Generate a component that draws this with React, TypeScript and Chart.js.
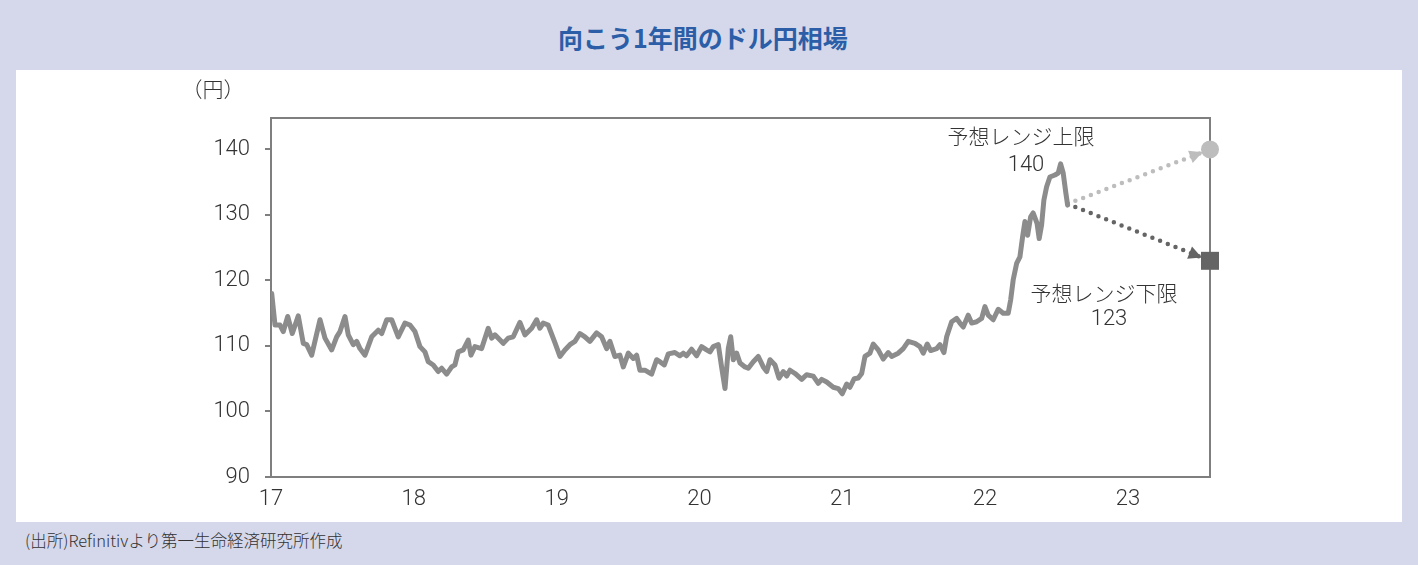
import React, { useEffect, useRef } from "react";
import { Chart, registerables } from "chart.js";

Chart.register(...registerables);

// ---- data ----
const title = "向こう1年間のドル円相場";
const unitLabel = "（円）";
const sourceNote = "(出所)Refinitivより第一生命経済研究所作成";

const years = [
  17.005, 17.028, 17.063, 17.086, 17.117, 17.149, 17.191, 17.226, 17.25, 17.285,
  17.343, 17.378, 17.425, 17.46, 17.483, 17.518, 17.541, 17.576, 17.6, 17.623,
  17.658, 17.705, 17.751, 17.775, 17.81, 17.845, 17.891, 17.938, 17.973, 18.008,
  18.043, 18.078, 18.101, 18.136, 18.171, 18.195, 18.23, 18.265, 18.288, 18.311,
  18.346, 18.381, 18.4, 18.428, 18.475, 18.521, 18.545, 18.568, 18.626, 18.661,
  18.696, 18.743, 18.778, 18.825, 18.86, 18.883, 18.906, 18.941, 18.988, 19.023,
  19.058, 19.093, 19.128, 19.163, 19.198, 19.233, 19.28, 19.315, 19.35, 19.373,
  19.408, 19.443, 19.467, 19.502, 19.537, 19.56, 19.583, 19.618, 19.665, 19.7,
  19.723, 19.754, 19.782, 19.828, 19.863, 19.887, 19.91, 19.945, 19.98, 20.015,
  20.05, 20.074, 20.097, 20.132, 20.155, 20.179, 20.202, 20.219, 20.237, 20.261,
  20.284, 20.319, 20.342, 20.377, 20.412, 20.447, 20.471, 20.494, 20.529, 20.557,
  20.587, 20.611, 20.634, 20.669, 20.716, 20.75, 20.797, 20.832, 20.856, 20.891,
  20.937, 20.972, 21.0, 21.031, 21.054, 21.084, 21.112, 21.136, 21.159, 21.194,
  21.217, 21.252, 21.287, 21.322, 21.346, 21.392, 21.427, 21.462, 21.509, 21.544,
  21.567, 21.595, 21.619, 21.661, 21.684, 21.712, 21.731, 21.766, 21.801, 21.824,
  21.847, 21.882, 21.906, 21.941, 21.976, 21.999, 22.022, 22.057, 22.092, 22.127,
  22.162, 22.179, 22.197, 22.221, 22.244, 22.263, 22.279, 22.298, 22.319, 22.337,
  22.364, 22.379, 22.396, 22.412, 22.431, 22.454, 22.489, 22.512, 22.529, 22.547,
  22.566, 22.578,
];

const usdJpy = [
  118.0, 113.2, 113.2, 112.2, 114.5, 111.9, 114.6, 110.4, 110.2, 108.6,
  114.0, 111.2, 109.4, 111.4, 112.2, 114.5, 111.7, 110.2, 110.7, 109.6,
  108.6, 111.4, 112.4, 111.9, 114.0, 114.0, 111.4, 113.5, 113.2, 112.2,
  109.9, 109.1, 107.6, 107.1, 106.1, 106.6, 105.7, 106.8, 107.1, 109.1,
  109.4, 110.9, 108.6, 109.9, 109.6, 112.7, 111.2, 111.7, 110.4, 111.2,
  111.4, 113.6, 111.7, 112.7, 114.0, 112.7, 113.5, 113.2, 110.5, 108.4,
  109.4, 110.2, 110.7, 111.9, 111.4, 110.7, 112.0, 111.4, 109.6, 110.7,
  108.4, 108.6, 106.8, 108.9, 108.1, 108.6, 106.3, 106.3, 105.7, 107.9,
  107.6, 107.1, 108.8, 109.0, 108.5, 108.9, 108.5, 109.5, 108.5, 109.9,
  109.4, 109.1, 109.9, 110.2, 106.8, 103.5, 109.6, 111.4, 107.9, 108.9,
  107.4, 106.8, 106.6, 107.6, 108.4, 106.8, 106.1, 107.9, 107.1, 105.1,
  106.1, 105.4, 106.3, 105.8, 104.9, 105.6, 105.4, 104.3, 104.9, 104.5,
  103.7, 103.5, 102.7, 104.2, 103.7, 105.0, 105.1, 105.8, 108.4, 108.9,
  110.3, 109.4, 108.0, 109.0, 108.4, 108.9, 109.6, 110.7, 110.4, 109.9,
  108.9, 110.3, 109.3, 109.6, 110.2, 109.0, 111.4, 113.7, 114.2, 113.5,
  112.9, 114.7, 113.5, 113.7, 114.2, 116.0, 114.7, 114.0, 115.6, 115.0,
  115.0, 117.0, 120.1, 122.6, 123.6, 126.7, 129.0, 126.9, 129.7, 130.3,
  128.7, 126.4, 128.5, 132.3, 134.3, 135.8, 136.1, 136.4, 137.8, 136.4,
  133.3, 131.5,
];

const forecastStartYear = 22.578;
const forecastStartValue = 131.7;
const forecastEndYear = 23.575;
const rangeHigh = 140;
const rangeLow = 123;
const rangeHighLabel = "予想レンジ上限";
const rangeLowLabel = "予想レンジ下限";

const yTicks = [90, 100, 110, 120, 130, 140];
const xTicks = [17, 18, 19, 20, 21, 22, 23];
const yMin = 90;
const yMax = 144.8;

// ---- styles ----
const BG = "#d5d8ea";
const LINE = "#8c8c8c";
const AXIS = "#7f7f7f";
const TEXT = "#333333";
const HIGH_C = "#bdbdbd";
const LOW_C = "#656565";
const NUM_FONT = "'Liberation Sans Narrow', 'Roboto', sans-serif";
const JP_FONT = "'Noto Sans CJK JP', sans-serif";

const framePlugin = {
  id: "frameAndNotes",
  beforeDatasetsDraw(chart: any) {
    const { ctx, chartArea } = chart;
    ctx.save();
    ctx.strokeStyle = AXIS;
    ctx.lineWidth = 2;
    ctx.strokeRect(chartArea.left, chartArea.top, chartArea.right - chartArea.left, chartArea.bottom - chartArea.top);
    ctx.restore();
  },
  afterDatasetsDraw(chart: any) {
    const { ctx } = chart;
    ctx.save();
    // arrowheads
    chart.data.datasets.forEach((ds: any, i: number) => {
      if (!ds.arrowGap) return;
      const meta = chart.getDatasetMeta(i);
      const p0 = meta.data[0];
      const p1 = meta.data[meta.data.length - 1];
      const dx = p1.x - p0.x;
      const dy = p1.y - p0.y;
      const len = Math.hypot(dx, dy);
      const ux = dx / len;
      const uy = dy / len;
      const tx = p1.x - ux * ds.arrowGap;
      const ty = p1.y - uy * ds.arrowGap;
      const L = 13;
      const W = 6.5;
      const bx = tx - ux * L;
      const by = ty - uy * L;
      ctx.fillStyle = ds.borderColor;
      ctx.beginPath();
      ctx.moveTo(tx, ty);
      ctx.lineTo(bx - uy * W, by + ux * W);
      ctx.lineTo(bx + uy * W, by - ux * W);
      ctx.closePath();
      ctx.fill();
    });
    // notes
    const xs = chart.scales.x;
    const ys = chart.scales.y;
    const ex = xs.getPixelForValue(forecastEndYear);
    const hy = ys.getPixelForValue(rangeHigh);
    const ly = ys.getPixelForValue(rangeLow);
    ctx.fillStyle = TEXT;
    ctx.textAlign = "center";
    ctx.textBaseline = "middle";
    ctx.font = `300 21px ${JP_FONT}`;
    ctx.fillText(rangeHighLabel, ex - 189, hy - 13);
    ctx.fillText(rangeLowLabel, ex - 106, ly + 32);
    ctx.font = `300 22px ${NUM_FONT}`;
    ctx.fillText(String(rangeHigh), ex - 184, hy + 16);
    ctx.fillText(String(rangeLow), ex - 101, ly + 59);
    ctx.restore();
  },
};

function ChartPanel() {
  const ref = useRef<HTMLCanvasElement | null>(null);
  useEffect(() => {
    if (!ref.current) return;
    const main = years.map((x, i) => ({ x, y: usdJpy[i] }));
    const chart = new Chart(ref.current, {
      type: "line",
      data: {
        datasets: [
          {
            label: "USD/JPY",
            data: main,
            borderColor: LINE,
            borderWidth: 5,
            pointRadius: 0,
            tension: 0,
            borderJoinStyle: "round",
            borderCapStyle: "round",
          } as any,
          {
            label: "high",
            data: [
              { x: forecastStartYear, y: forecastStartValue },
              { x: forecastEndYear, y: rangeHigh },
            ],
            borderColor: HIGH_C,
            backgroundColor: HIGH_C,
            borderWidth: 4.5,
            borderDash: [0, 8.3],
            borderCapStyle: "round",
            pointRadius: [0, 9],
            pointStyle: "circle",
            pointBorderWidth: 0,
            clip: false,
            arrowGap: 8,
          } as any,
          {
            label: "low",
            data: [
              { x: forecastStartYear, y: forecastStartValue },
              { x: forecastEndYear, y: rangeLow },
            ],
            borderColor: LOW_C,
            backgroundColor: LOW_C,
            borderWidth: 4.5,
            borderDash: [0, 8.3],
            borderCapStyle: "round",
            pointRadius: [0, 12.7],
            pointStyle: "rect",
            pointBorderWidth: 0,
            clip: false,
            arrowGap: 9,
          } as any,
        ],
      },
      options: {
        animation: false,
        responsive: false,
        devicePixelRatio: 1,
        layout: { padding: { top: 48, right: 192, left: 0, bottom: 0 } },
        plugins: { legend: { display: false }, tooltip: { enabled: false } },
        scales: {
          x: {
            type: "linear",
            min: 17,
            max: forecastEndYear,
            afterBuildTicks: (axis: any) => {
              axis.ticks = xTicks.map((v) => ({ value: v }));
            },
            afterFit: (axis: any) => {
              axis.height = 45;
            },
            grid: { drawOnChartArea: false, drawTicks: false },
            border: { display: false },
            ticks: {
              color: TEXT,
              font: { family: NUM_FONT, size: 22, weight: "300" },
              padding: 9,
              maxRotation: 0,
              autoSkip: false,
              callback: (v: any) => String(v),
            },
          },
          y: {
            type: "linear",
            min: yMin,
            max: yMax,
            afterBuildTicks: (axis: any) => {
              axis.ticks = yTicks.map((v) => ({ value: v }));
            },
            afterFit: (axis: any) => {
              axis.width = 255;
            },
            grid: { drawOnChartArea: false, drawTicks: true, tickLength: 6, color: AXIS, lineWidth: 2 },
            border: { display: false },
            ticks: {
              color: TEXT,
              font: { family: NUM_FONT, size: 22, weight: "300" },
              padding: 15,
              callback: (v: any) => String(v),
            },
          },
        },
      } as any,
      plugins: [framePlugin],
    });
    return () => chart.destroy();
  }, []);
  return <canvas ref={ref} width={1386} height={452} style={{ width: 1386, height: 452, display: "block" }} />;
}

export default function App() {
  return (
    <div style={{ position: "fixed", left: 0, top: 0, width: 1418, height: 565, background: BG, overflow: "hidden" }}>
      <div
        style={{
          position: "absolute",
          left: 0,
          top: 18,
          width: 1406,
          textAlign: "center",
          fontFamily: JP_FONT,
          fontSize: 25,
          fontWeight: 700,
          color: "#2c5ea8",
          lineHeight: "38px",
        }}
      >
        {title}
      </div>
      <div style={{ position: "absolute", left: 16, top: 70, width: 1386, height: 452, background: "#ffffff" }}>
        <ChartPanel />
        <div
          style={{
            position: "absolute",
            left: 164,
            top: 5,
            width: 66,
            textAlign: "center",
            fontFamily: JP_FONT,
            fontSize: 21,
            fontWeight: 300,
            color: TEXT,
            lineHeight: "26px",
          }}
        >
          {unitLabel}
        </div>
      </div>
      <div
        style={{
          position: "absolute",
          left: 25,
          top: 528,
          fontFamily: JP_FONT,
          fontSize: 16.5,
          fontWeight: 300,
          color: TEXT,
          lineHeight: "24px",
          whiteSpace: "nowrap",
        }}
      >
        {sourceNote}
      </div>
    </div>
  );
}
